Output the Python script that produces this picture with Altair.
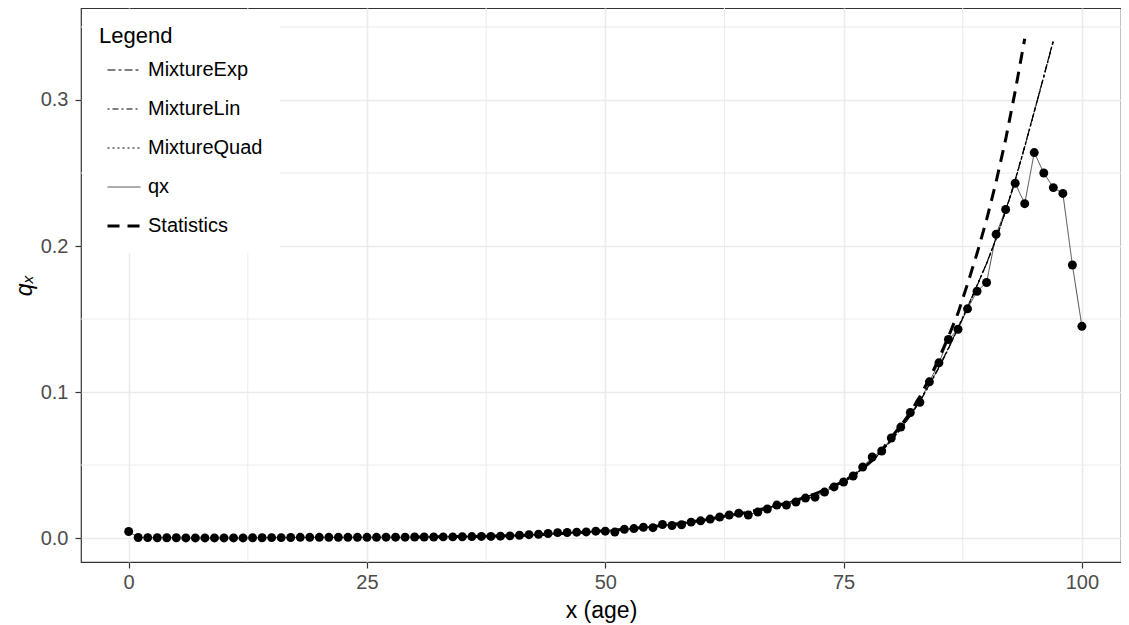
import altair as alt
import pandas as pd

# ---- data ----
ages_qx = list(range(0, 101))
qx = [0.0045,
      0.0004, 0.0003, 0.0002, 0.0002, 0.0002, 0.0001, 0.0001, 0.0001, 0.0001, 0.0001,
      0.0001, 0.0001, 0.0002, 0.0002, 0.0003, 0.0003, 0.0004, 0.0005, 0.0005, 0.0005,
      0.0005, 0.0005, 0.0005, 0.0005, 0.0005, 0.0005, 0.0006, 0.0006, 0.0006, 0.0007,
      0.0007, 0.0007, 0.0008, 0.0008, 0.0009, 0.0010, 0.0011, 0.0011, 0.0013, 0.0015,
      0.0019, 0.0023, 0.0026, 0.0031, 0.0037, 0.0038, 0.0040, 0.0042, 0.0047, 0.0047,
      0.0041, 0.0060, 0.0065, 0.0074, 0.0071, 0.0093, 0.0086, 0.0091, 0.0109, 0.0118,
      0.0130, 0.0144, 0.0158, 0.0170, 0.0158, 0.0178, 0.0199, 0.0226, 0.0226, 0.0247,
      0.0274, 0.0280, 0.0315, 0.0350, 0.0384, 0.0425, 0.0486, 0.0555, 0.0596, 0.0685,
      0.0760, 0.0860, 0.0930, 0.1070, 0.1200, 0.1360, 0.1430, 0.1570, 0.1690, 0.1750,
      0.2080, 0.2250, 0.2430, 0.2290, 0.2640, 0.2500, 0.2400, 0.2360, 0.1870, 0.1450]

ages_mix = list(range(30, 98))
mix_exp = [0.0008, 0.0008, 0.0009, 0.0009, 0.0010, 0.0010, 0.0011, 0.0012, 0.0013, 0.0014,
           0.0016, 0.0018, 0.0020, 0.0023, 0.0026, 0.0029, 0.0033, 0.0037, 0.0041, 0.0046,
           0.0050, 0.0055, 0.0060, 0.0066, 0.0072, 0.0079, 0.0086, 0.0093, 0.0101, 0.0110,
           0.0120, 0.0131, 0.0143, 0.0155, 0.0166, 0.0178, 0.0192, 0.0207, 0.0223, 0.0240,
           0.0259, 0.0280, 0.0303, 0.0329, 0.0357, 0.0390, 0.0428, 0.0475, 0.0530, 0.0595,
           0.0670, 0.0750, 0.0840, 0.0940, 0.1050, 0.1170, 0.1300, 0.1440, 0.1580, 0.1730,
           0.1880, 0.2050, 0.2240, 0.2450, 0.2680, 0.2920, 0.3160, 0.3410]
mix_lin = [0.0008, 0.0008, 0.0009, 0.0009, 0.0010, 0.0010, 0.0011, 0.0012, 0.0013, 0.0014,
           0.0016, 0.0018, 0.0020, 0.0023, 0.0026, 0.0029, 0.0033, 0.0037, 0.0041, 0.0046,
           0.0050, 0.0055, 0.0060, 0.0066, 0.0072, 0.0079, 0.0086, 0.0093, 0.0101, 0.0110,
           0.0120, 0.0131, 0.0143, 0.0155, 0.0166, 0.0178, 0.0192, 0.0207, 0.0223, 0.0240,
           0.0259, 0.0280, 0.0303, 0.0329, 0.0357, 0.0390, 0.0428, 0.0474, 0.0528, 0.0592,
           0.0666, 0.0746, 0.0836, 0.0936, 0.1046, 0.1166, 0.1296, 0.1436, 0.1577, 0.1728,
           0.1880, 0.2052, 0.2243, 0.2453, 0.2683, 0.2923, 0.3163, 0.3400]
mix_quad = [0.0008, 0.0008, 0.0009, 0.0009, 0.0010, 0.0010, 0.0011, 0.0012, 0.0013, 0.0014,
            0.0016, 0.0018, 0.0020, 0.0023, 0.0026, 0.0029, 0.0033, 0.0037, 0.0041, 0.0046,
            0.0050, 0.0055, 0.0060, 0.0066, 0.0072, 0.0079, 0.0086, 0.0093, 0.0101, 0.0110,
            0.0120, 0.0131, 0.0143, 0.0155, 0.0166, 0.0178, 0.0192, 0.0207, 0.0223, 0.0240,
            0.0259, 0.0280, 0.0303, 0.0329, 0.0357, 0.0390, 0.0429, 0.0476, 0.0532, 0.0597,
            0.0672, 0.0752, 0.0842, 0.0942, 0.1052, 0.1172, 0.1302, 0.1442, 0.1582, 0.1732,
            0.1882, 0.2048, 0.2238, 0.2448, 0.2678, 0.2918, 0.3158, 0.3405]

ages_stat = list(range(30, 95))
stat = [0.0008, 0.0008, 0.0009, 0.0009, 0.0010, 0.0010, 0.0011, 0.0012, 0.0013, 0.0014,
        0.0016, 0.0018, 0.0020, 0.0023, 0.0026, 0.0029, 0.0033, 0.0037, 0.0041, 0.0046,
        0.0050, 0.0055, 0.0060, 0.0066, 0.0072, 0.0079, 0.0086, 0.0093, 0.0101, 0.0110,
        0.0120, 0.0131, 0.0143, 0.0155, 0.0166, 0.0178, 0.0192, 0.0207, 0.0223, 0.0240,
        0.0259, 0.0280, 0.0303, 0.0329, 0.0357, 0.0390, 0.0428, 0.0475, 0.0532, 0.0600,
        0.0690, 0.0770, 0.0860, 0.0970, 0.1090, 0.1230, 0.1380, 0.1540, 0.1740, 0.1950,
        0.2180, 0.2440, 0.2730, 0.3060, 0.3420]

series_order = ["MixtureExp", "MixtureLin", "MixtureQuad", "qx", "Statistics"]
x_ticks = [0, 25, 50, 75, 100]
y_ticks = [0.0, 0.1, 0.2, 0.3]
x_minor = [12.5, 37.5, 62.5, 87.5]
y_minor = [0.05, 0.15, 0.25, 0.35]

# ---- styles ----
dash_styles = [[8, 3, 3, 3], [2, 3, 6, 3], [2, 3], [1, 0], [12, 8]]
line_widths = {"MixtureExp": 1.2, "MixtureLin": 1.2, "MixtureQuad": 1.2,
               "qx": 0.7, "Statistics": 3}

# ---- tables ----
lines = pd.concat([
    pd.DataFrame({"series": "MixtureExp", "age": ages_mix, "value": mix_exp}),
    pd.DataFrame({"series": "MixtureLin", "age": ages_mix, "value": mix_lin}),
    pd.DataFrame({"series": "MixtureQuad", "age": ages_mix, "value": mix_quad}),
    pd.DataFrame({"series": "qx", "age": ages_qx, "value": qx}),
    pd.DataFrame({"series": "Statistics", "age": ages_stat, "value": stat}),
], ignore_index=True)
lines["lw"] = lines["series"].map(line_widths)
points = pd.DataFrame({"age": ages_qx, "value": qx})

FONT = "Liberation Sans"

X = alt.X("age:Q",
          scale=alt.Scale(domain=[-5, 104.1], nice=False, zero=False),
          axis=alt.Axis(values=x_ticks, format="d", title="x (age)"))
Y = alt.Y("value:Q",
          scale=alt.Scale(domain=[-0.0164, 0.363], nice=False, zero=False),
          axis=alt.Axis(values=y_ticks, format=".1f", title="qₓ",
                        titleFontStyle="italic"))

minor_x = alt.Chart(pd.DataFrame({"age": x_minor})).mark_rule(
    color="#ebebeb", strokeWidth=1).encode(x=X)
minor_y = alt.Chart(pd.DataFrame({"value": y_minor})).mark_rule(
    color="#ebebeb", strokeWidth=1).encode(y=Y)

width_expr = ("datum.value === 'Statistics' ? 3 : "
              "(datum.value === 'qx' ? 0.7 : 1.2)")

line_layer = alt.Chart(lines).mark_line(color="black").encode(
    x=X, y=Y,
    strokeDash=alt.StrokeDash(
        "series:N", sort=series_order,
        scale=alt.Scale(domain=series_order, range=dash_styles),
        legend=alt.Legend(title="Legend",
                          symbolStrokeWidth=alt.ExprRef(expr=width_expr))),
    strokeWidth=alt.StrokeWidth("lw:Q", scale=None, legend=None),
)

point_layer = alt.Chart(points).mark_circle(color="black", size=80, opacity=1).encode(
    x=X, y=Y)

chart = alt.layer(minor_x, minor_y, line_layer, point_layer).properties(
    width=1040, height=554,
    autosize=alt.AutoSizeParams(type="none"),
    padding={"left": 73, "top": 0, "right": 0, "bottom": 64},
).configure_view(
    stroke="#333333", strokeWidth=1.2
).configure_axis(
    labelFont=FONT, labelFontSize=20, labelColor="#4d4d4d",
    tickColor="#333333", tickSize=6, tickWidth=1.2,
    domain=False, grid=True, gridColor="#ebebeb", gridWidth=1.6,
    titleFont=FONT, titleFontSize=23, titleFontWeight="normal", titleColor="black",
).configure_axisX(
    labelPadding=4, titlePadding=7
).configure_axisY(
    labelPadding=7, titlePadding=4
).configure_legend(
    orient="none", legendX=1, legendY=1, padding=17, fillColor="white",
    symbolType="stroke", symbolSize=1089, symbolStrokeColor="black", symbolOffset=15,
    labelFont=FONT, labelFontSize=20, labelColor="black", labelOffset=14,
    titleFont=FONT, titleFontSize=22, titleFontWeight="normal", titleColor="black",
    titlePadding=12, rowPadding=19,
)

chart.save("out.html", embed_options={"renderer": "svg", "actions": False})
